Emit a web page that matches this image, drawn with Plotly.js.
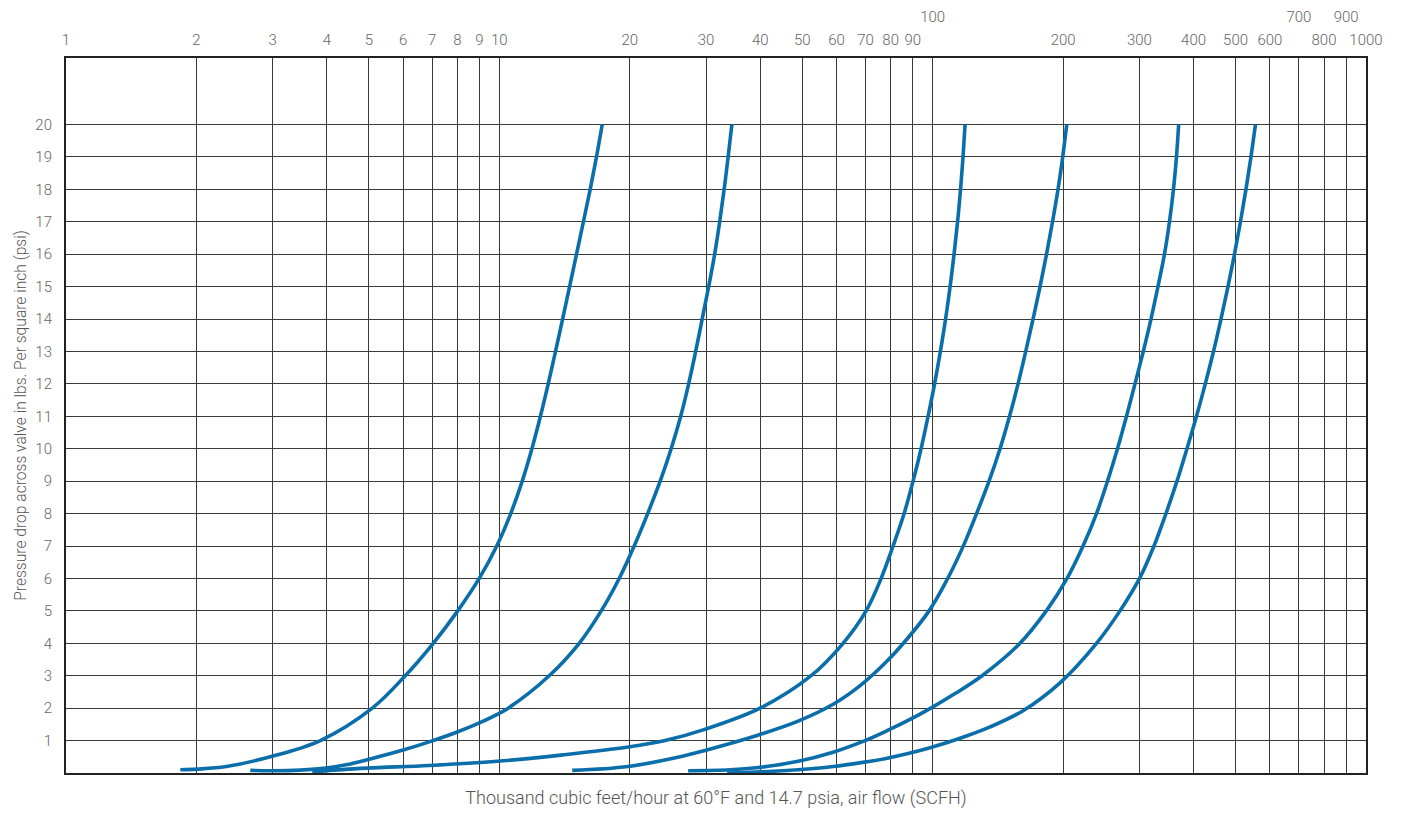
<!DOCTYPE html>
<html>
<head>
<meta charset="utf-8">
<script src="https://cdn.plot.ly/plotly-3.0.1.min.js"></script>
<style>
html,body{margin:0;padding:0;background:#fff;}
#chart{width:1402px;height:813px;}
</style>
</head>
<body>
<div id="chart"></div>
<script>
// Top tick labels (log axis, thousand SCFH)
const tickValsLow = [1,2,3,4,5,6,7,8,9,10,20,30,40,50,60,70,80,90,200,300,400,500,600,800,1000];
const tickTextLow = ["1","2","3","4","5","6","7","8","9","10","20","30","40","50","60","70","80","90","200","300","400","500","600","800","1000"];
const tickValsHigh = [100,700,900];
const tickTextHigh = ["100","700","900"];
const gridVals = [1,2,3,4,5,6,7,8,9,10,20,30,40,50,60,70,80,90,100,200,300,400,500,600,700,800,900,1000];
const yTickVals = [1,2,3,4,5,6,7,8,9,10,11,12,13,14,15,16,17,18,19,20];

// Curve 1
const c1x = [1.836,2.010,2.344,2.962,3.863,5.091,6.066,7.039,8.017,8.987,9.863,10.624,11.293,11.890,12.440,12.966,13.481,13.996,14.526,15.069,15.632,16.207,16.757,17.274];
const c1y = [0.10,0.12,0.20,0.50,1,2,3,4,5,6,7,8,9,10,11,12,13,14,15,16,17,18,19,20];
// Curve 2
const c2x = [2.663,3.004,3.473,3.981,4.458,4.958,5.970,6.891,7.912,8.939,9.891,10.483,13.034,15.287,17.183,18.906,20.474,21.994,23.508,24.918,26.213,27.346,28.387,29.382,30.417,31.398,32.249,33.023,33.729,34.403];
const c2y = [0.08,0.07,0.09,0.15,0.26,0.41,0.70,0.96,1.24,1.53,1.81,2.00,3,4,5,6,7,8,9,10,11,12,13,14,15,16,17,18,19,20];
// Curve 3
const c3x = [3.702,3.987,4.958,6.891,9.891,14.041,19.830,24.137,29.539,39.974,52.420,62.129,70.207,76.033,81.037,85.923,90.114,94.035,97.59,101.02,104.18,107.10,109.70,112.04,114.15,115.98,117.51,118.79];
const c3y = [0.02,0.07,0.15,0.23,0.36,0.56,0.80,1.00,1.33,2,3,4,5,6,7,8,9,10,11,12,13,14,15,16,17,18,19,20];
// Curve 4
const c4x = [14.730,19.830,26.141,29.539,39.138,48.921,58.925,68.372,78.075,87.758,98.105,107.37,117.22,126.27,134.93,143.05,150.45,157.40,163.98,170.45,176.93,183.14,189.06,194.67,199.57,203.89];
const c4y = [0.08,0.20,0.50,0.68,1.15,1.60,2.12,2.72,3.42,4.17,5.00,5.90,6.95,8,9,10,11,12,13,14,15,16,17,18,19,20];
// Curve 5
const c5x = [27.271,34.095,39.138,48.921,58.925,68.372,78.075,87.758,98.105,112.64,130.02,158.23,183.61,204.22,222.33,238.83,253.22,266.99,280.09,293.02,306.20,319.01,331.06,342.70,351.97,359.50,365.26,369.58];
const c5y = [0.07,0.10,0.16,0.36,0.64,0.95,1.29,1.62,1.97,2.45,3.00,3.97,5.03,6,7,8,9,10,11,12,13,14,15,16,17,18,19,20];
// Curve 6
const c6x = [33.550,39.138,48.921,58.925,68.372,78.075,87.758,98.105,115.66,135.64,161.66,196.74,238.83,270.58,300.19,324.12,345.46,366.27,386.20,406.27,425.71,444.65,462.71,480.30,497.17,513.22,528.44,542.63,555.78];
const c6y = [0.00,0.03,0.10,0.20,0.32,0.45,0.60,0.77,1.07,1.42,1.92,2.78,4,5,6,7,8,9,10,11,12,13,14,15,16,17,18,19,20];

const curves = [[c1x,c1y],[c2x,c2y],[c3x,c3y],[c4x,c4y],[c5x,c5y],[c6x,c6y]];
const lineColor = '#0a6eab';

const traces = curves.map(c => ({
  x: c[0], y: c[1], type: 'scatter', mode: 'lines',
  line: {color: lineColor, width: 3.6, shape: 'spline', smoothing: 1},
  hoverinfo: 'x+y', showlegend: false
}));

const fam = 'Roboto, "DejaVu Sans Condensed", sans-serif';
const tickFont = {family: fam, size: 15, color: '#666', weight: 300};

const layout = {
  width: 1402, height: 813,
  margin: {l: 66, r: 36, t: 58, b: 40, pad: 0},
  paper_bgcolor: '#fff', plot_bgcolor: '#fff',
  font: tickFont,
  showlegend: false,
  xaxis: {
    type: 'log', range: [0, 3], side: 'bottom',
    tickmode: 'array', tickvals: gridVals, showticklabels: false,
    ticks: '', showgrid: true, gridcolor: '#3a3a3a', gridwidth: 1,
    showline: true, mirror: true, linecolor: '#222', linewidth: 2,
    zeroline: false, automargin: false, fixedrange: true,
    title: {text: 'Thousand cubic feet/hour at 60°F and 14.7 psia, air flow (SCFH)', font: {family: fam, size: 18, color: '#555', weight: 300}, standoff: 17}
  },
  xaxis2: {
    type: 'log', range: [0, 3], side: 'top', overlaying: 'x', anchor: 'y',
    tickmode: 'array', tickvals: tickValsLow, ticktext: tickTextLow,
    ticks: 'outside', ticklen: 6, tickcolor: 'rgba(0,0,0,0)',
    showgrid: false, showline: false, zeroline: false, automargin: false,
    tickfont: tickFont
  },
  xaxis3: {
    type: 'log', range: [0, 3], side: 'top', overlaying: 'x', anchor: 'y',
    tickmode: 'array', tickvals: tickValsHigh, ticktext: tickTextHigh,
    ticks: 'outside', ticklen: 29, tickcolor: 'rgba(0,0,0,0)',
    showgrid: false, showline: false, zeroline: false, automargin: false,
    tickfont: tickFont
  },
  yaxis: {
    range: [0, 22.05], tickmode: 'array', tickvals: yTickVals,
    ticks: 'outside', ticklen: 9, tickcolor: 'rgba(0,0,0,0)',
    showgrid: true, gridcolor: '#3a3a3a', gridwidth: 1,
    showline: true, mirror: true, linecolor: '#222', linewidth: 2,
    zeroline: false, automargin: false, fixedrange: true,
    tickfont: tickFont,
    title: {text: 'Pressure drop across valve in lbs. Per square inch (psi)', font: {family: fam, size: 15.6, color: '#555', weight: 300}, standoff: 5}
  }
};

// empty traces so the overlay tick-label axes render
traces.push({x: [1], y: [null], xaxis: 'x2', yaxis: 'y', type: 'scatter', mode: 'lines', showlegend: false, hoverinfo: 'skip'});
traces.push({x: [1], y: [null], xaxis: 'x3', yaxis: 'y', type: 'scatter', mode: 'lines', showlegend: false, hoverinfo: 'skip'});

Plotly.newPlot('chart', traces, layout, {displayModeBar: false, staticPlot: true});
</script>
</body>
</html>
